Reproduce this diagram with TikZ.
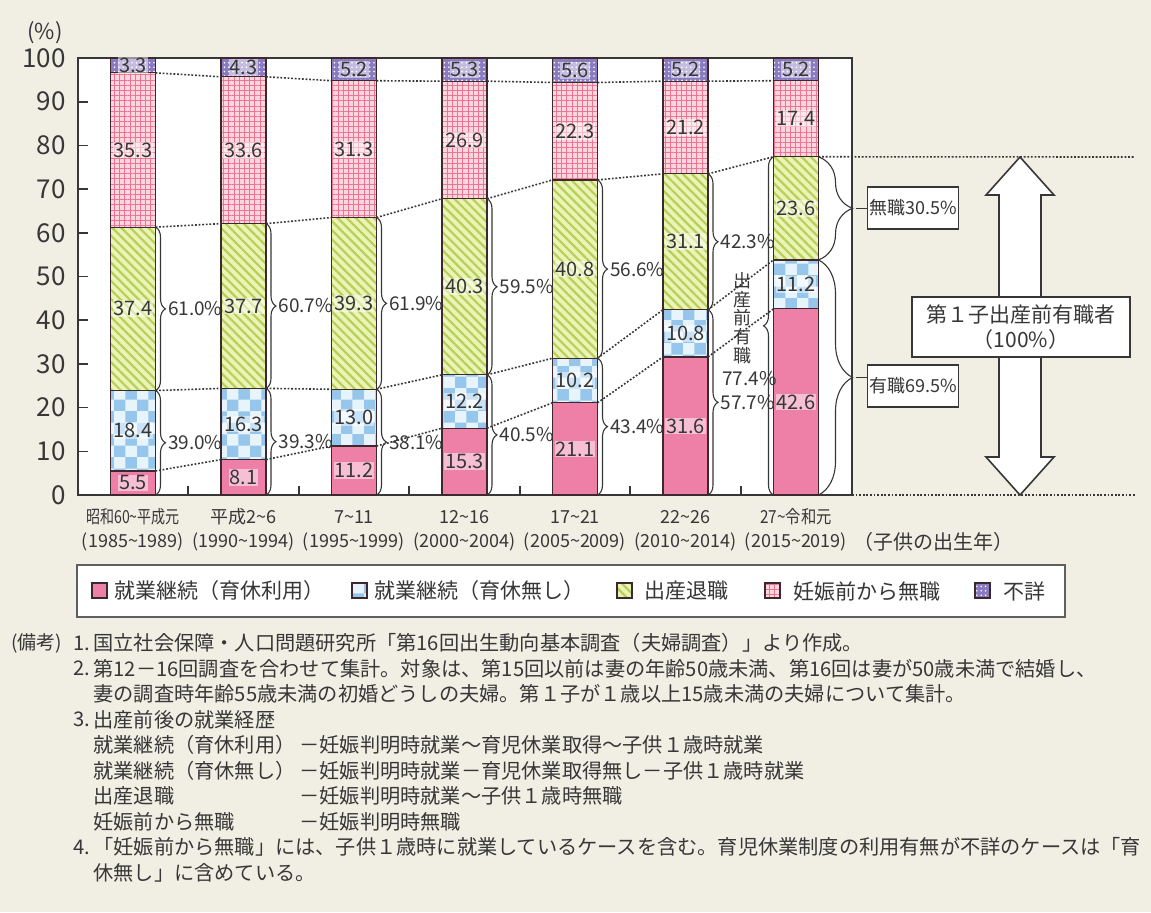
\documentclass[tikz,border=0pt]{standalone}
\usepackage{fontspec}
\usepackage{graphicx}
\setmainfont{Noto Sans CJK JP}
\usetikzlibrary{patterns,patterns.meta,decorations.pathreplacing}

\definecolor{paper}{RGB}{241,238,228}
\definecolor{ink}{RGB}{55,55,55}
\definecolor{edge}{RGB}{60,40,45}
\definecolor{leavepink}{RGB}{238,128,168}
\definecolor{checkblue}{RGB}{150,198,236}
\definecolor{checkbase}{RGB}{232,244,251}
\definecolor{quitgreen}{RGB}{182,208,88}
\definecolor{quitbase}{RGB}{236,243,182}
\definecolor{gridpink}{RGB}{236,118,146}
\definecolor{gridbase}{RGB}{251,214,222}
\definecolor{unkpurple}{RGB}{138,122,192}

\newcommand{\tl}{\textasciitilde}
\newcommand{\fs}[1]{\fontsize{#1}{#1}\selectfont}

\tikzset{
	inktext/.style={text=ink, inner sep=0.5pt},
	segA/.style={fill=leavepink},
	segB/.style={fill=checkbase, postaction={pattern=checkerboard, pattern color=checkblue}},
	segC/.style={fill=quitbase, postaction={pattern={Lines[angle=-45,distance=3.2pt,line width=1.1pt]}, pattern color=quitgreen}},
	segD/.style={fill=gridbase, postaction={pattern={Hatch[distance=2.6pt,line width=0.45pt]}, pattern color=gridpink}},
	segE/.style={fill=unkpurple, postaction={pattern={Dots[radius=0.45pt,distance=2.2pt]}, pattern color=white}},
	baredge/.style={draw=edge, line width=0.6pt},
	guide/.style={draw=ink, line width=0.8pt, dash pattern=on 0.9pt off 0.9pt},
	brc/.style={draw=ink, line width=0.55pt, decorate, decoration={brace, amplitude=5pt}},
	bigbrc/.style={brc, decoration={brace, amplitude=17pt}},
	vlab/.style={inktext, font=\fs{10}, fill=white, fill opacity=0.5, text opacity=1},
	pct/.style={inktext, font=\fs{9.5}},
	ticklab/.style={inktext, font=\fs{13}, anchor=east},
	xlab/.style={inktext, font=\fs{9}},
	tagbox/.style={draw=ink, line width=0.7pt, fill=white, text=ink, font=\fs{9}, minimum width=45pt, minimum height=21pt, inner sep=1pt},
	mainbox/.style={draw=ink, line width=0.8pt, fill=white, text=ink, font=\fontsize{10.5}{12.5}\selectfont, align=center, minimum width=109pt, minimum height=30pt},
	legtext/.style={inktext, font=\fs{10.5}, anchor=west},
	note/.style={inktext, font=\fs{10.1}, anchor=west}
}

\begin{document}
\begin{tikzpicture}[x=0.5pt, y=-0.5pt]
	\fill[paper] (0,0) rectangle (1151,912);
	\useasboundingbox (0,0) rectangle (1151,912);

	% plot area and axes
	\draw[draw=ink, line width=0.8pt, fill=white] (78,58) rectangle (852,495);
	\node[inktext, font=\fs{11}] (unit) at (45,33) {(\%)};
	\foreach \v in {0,10,...,100}
		\node[ticklab] at (67,{495-4.37*\v}) {\v};
	\foreach \v in {10,20,...,90}
		\draw[ink, line width=0.8pt] (78,{495-4.37*\v}) -- (88,{495-4.37*\v});
	\foreach \k in {0,...,5}
		\draw[ink, line width=0.8pt] ({188.25+110.5*\k},495) -- ({188.25+110.5*\k},486);

	% stacked bars
	\foreach \i/\va/\vb/\vc/\vd/\ve in {1/5.5/18.4/37.4/35.3/3.3, 2/8.1/16.3/37.7/33.6/4.3, 3/11.2/13.0/39.3/31.3/5.2, 4/15.3/12.2/40.3/26.9/5.3, 5/21.1/10.2/40.8/22.3/5.6, 6/31.6/10.8/31.1/21.2/5.2, 7/42.6/11.2/23.6/17.4/5.2}{
		\pgfmathsetmacro\xl{110.5+110.5*(\i-1)}
		\pgfmathsetmacro\xr{\xl+45}
		\pgfmathsetmacro\xc{\xl+22.5}
		\pgfmathsetmacro\ya{495-4.37*\va}
		\pgfmathsetmacro\yb{\ya-4.37*\vb}
		\pgfmathsetmacro\yc{\yb-4.37*\vc}
		\pgfmathsetmacro\yd{\yc-4.37*\vd}
		\path[segA] (\xl,495) rectangle (\xr,\ya);
		\path[segB] (\xl,\ya) rectangle (\xr,\yb);
		\path[segC] (\xl,\yb) rectangle (\xr,\yc);
		\path[segD] (\xl,\yc) rectangle (\xr,\yd);
		\path[segE] (\xl,\yd) rectangle (\xr,58);
		\draw[baredge] (\xl,58) rectangle (\xr,495);
		\foreach \yy in {\ya,\yb,\yc,\yd}
			\draw[baredge] (\xl,\yy) -- (\xr,\yy);
		\coordinate (L\i-0) at (\xl,495); \coordinate (R\i-0) at (\xr,495);
		\coordinate (L\i-a) at (\xl,\ya); \coordinate (R\i-a) at (\xr,\ya);
		\coordinate (L\i-b) at (\xl,\yb); \coordinate (R\i-b) at (\xr,\yb);
		\coordinate (L\i-c) at (\xl,\yc); \coordinate (R\i-c) at (\xr,\yc);
		\coordinate (L\i-d) at (\xl,\yd); \coordinate (R\i-d) at (\xr,\yd);
		\node[vlab] at (\xc,{(495+\ya)/2}) {\va};
		\node[vlab] at (\xc,{(\ya+\yb)/2}) {\vb};
		\node[vlab] at (\xc,{(\yb+\yc)/2}) {\vc};
		\node[vlab] at (\xc,{(\yc+\yd)/2}) {\vd};
		\node[vlab] at (\xc,{(\yd+58)/2}) {\ve};
	}

	% dotted links between bars
	\foreach \i [evaluate=\i as \j using int(\i+1)] in {1,...,6}
		\foreach \k in {a,b,c,d}
			\draw[guide] (R\i-\k) -- (L\j-\k);
	\coordinate (farTop) at (1135,157);
	\coordinate (farBase) at (1135,495);
	\draw[guide] (R7-c) -- (farTop);
	\draw[guide] (852,495) -- (farBase);

	% braces with shares
	\foreach \i/\up/\lo in {1/61.0/39.0, 2/60.7/39.3, 3/61.9/38.1, 4/59.5/40.5, 5/56.6/43.4, 6/42.3/57.7}{
		\draw[brc] (R\i-c) -- (R\i-b) node[pct, midway, right=5.5pt] {\up\%};
		\draw[brc] (R\i-b) -- (R\i-0) node[pct, midway, right=5.5pt] {\lo\%};
	}
	\draw[brc] (L7-0) -- (L7-c);
	\node[inktext, font=\fontsize{9}{9.3}\selectfont, align=center] (preJob) at (742,318) {出\\産\\前\\有\\職};
	\node[pct, anchor=west] (preJobPct) at (721,379) {77.4\%};

	\draw[bigbrc] (R7-c) -- (R7-b) node[midway, right=17pt, inner sep=0] (tipNo) {};
	\draw[bigbrc] (R7-b) -- (R7-0) node[midway, right=17pt, inner sep=0] (tipYes) {};
	\node[tagbox] (boxNo) at (913,208) {無職30.5\%};
	\node[tagbox] (boxYes) at (913,386) {有職69.5\%};
	\draw[ink, line width=0.6pt] (tipNo) -- (tipNo -| boxNo.west);
	\draw[ink, line width=0.6pt] (tipYes) -- (tipYes -| boxYes.west);

	% double arrow for all employed before birth
	\draw[ink, line width=0.8pt, fill=white] (1020,157) -- (1054,195) -- (1041,195) -- (1041,457) -- (1054,457) -- (1020,495) -- (986,457) -- (999,457) -- (999,195) -- (986,195) -- cycle;
	\node[mainbox] (firstJob) at (1021,327) {第１子出産前有職者\\（100\%）};

	% category labels
	\foreach \i/\era/\yrs in {1/{\scalebox{0.78}[1]{昭和60\tl 平成元}}/1985\tl 1989, 2/平成2\tl 6/1990\tl 1994, 3/7\tl 11/1995\tl 1999, 4/12\tl 16/2000\tl 2004, 5/17\tl 21/2005\tl 2009, 6/22\tl 26/2010\tl 2014, 7/{\scalebox{0.85}[1]{27\tl 令和元}}/2015\tl 2019}{
		\node[xlab] at ({133+110.5*(\i-1)},517) {\era};
		\node[xlab] at ({133+110.5*(\i-1)},542) {(\yrs)};
	}
	\node[inktext, font=\fs{10}, anchor=west] (birthYear) at (852,542) {（子供の出生年）};

	% legend
	\draw[draw=ink!80, line width=0.8pt, fill=white] (77,565) rectangle (1065,617);
	\foreach \s/\x/\tx/\t in {segA/92/113/就業継続（育休利用）, segB/352/373/就業継続（育休無し）, segC/617/643/出産退職, segD/765/792/妊娠前から無職, segE/975/1002/不詳}{
		\path[\s] (\x,583) rectangle (\x+15,598);
		\draw[baredge] (\x,583) rectangle (\x+15,598);
		\node[legtext] at (\tx,591) {\t};
	}

	% notes
	\node[note, font=\fs{9.5}] at (10,643) {(備考)};
	\node[note] at (72,643) {1.};
	\node[note] at (92,643) {国立社会保障・人口問題研究所「第16回出生動向基本調査（夫婦調査）」より作成。};
	\node[note] at (72,668.5) {2.};
	\node[note] at (92,668.5) {第12－16回調査を合わせて集計。対象は、第15回以前は妻の年齢50歳未満、第16回は妻が50歳未満で結婚し、};
	\node[note] at (92,694) {妻の調査時年齢55歳未満の初婚どうしの夫婦。第１子が１歳以上15歳未満の夫婦について集計。};
	\node[note] at (72,719.5) {3.};
	\node[note] at (92,719.5) {出産前後の就業経歴};
	\node[note] at (92,745) {就業継続（育休利用）};
	\node[note] at (298,745) {－妊娠判明時就業～育児休業取得～子供１歳時就業};
	\node[note] at (92,770.5) {就業継続（育休無し）};
	\node[note] at (298,770.5) {－妊娠判明時就業－育児休業取得無し－子供１歳時就業};
	\node[note] at (92,796) {出産退職};
	\node[note] at (298,796) {－妊娠判明時就業～子供１歳時無職};
	\node[note] at (92,821.5) {妊娠前から無職};
	\node[note] at (298,821.5) {－妊娠判明時無職};
	\node[note] at (72,847) {4.};
	\node[note] at (92,847) {「妊娠前から無職」には、子供１歳時に就業しているケースを含む。育児休業制度の利用有無が不詳のケースは「育};
	\node[note] at (92,872.5) {休無し」に含めている。};
\end{tikzpicture}
\end{document}
